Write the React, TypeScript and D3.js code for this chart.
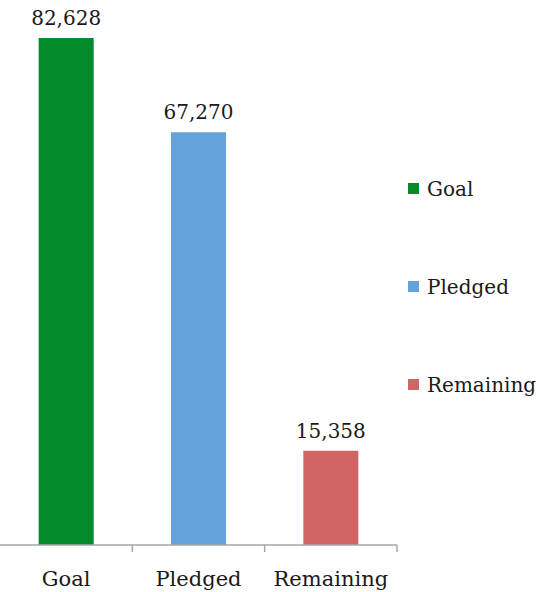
import React from "react";
import * as d3 from "d3";

const categories = ["Goal", "Pledged", "Remaining"];
const values = [82628, 67270, 15358];
const colors = ["#038A2B", "#64A3D9", "#D16464"];
const yMax = 90000;

const W = 540;
const H = 592;
const FONT = "'DejaVu Serif', serif";

export default function App() {
  const x = d3.scaleBand<string>().domain(categories).range([0, 397]);
  const y = d3.scaleLinear().domain([0, yMax]).range([545, -7.2]);
  const barW = 55;
  const fmt = d3.format(",");
  const axisY = y(0);
  const ticks = categories.map((c) => (x(c) as number) + x.bandwidth());

  return (
    <div style={{ position: "absolute", left: 0, top: 0 }}>
      <svg width={W} height={H} style={{ display: "block", background: "#fff" }}>
        {categories.map((c, i) => {
          const cx = (x(c) as number) + x.bandwidth() / 2;
          return (
            <g key={c}>
              <rect
                x={cx - barW / 2}
                y={y(values[i])}
                width={barW}
                height={axisY - y(values[i])}
                fill={colors[i]}
              />
              <text
                x={cx}
                y={y(values[i]) - 13}
                textAnchor="middle"
                fontFamily={FONT}
                fontSize={20}
                fill="#1a1a1a"
              >
                {fmt(values[i])}
              </text>
              <text
                x={cx}
                y={586}
                textAnchor="middle"
                fontFamily={FONT}
                fontSize={21}
                fill="#1a1a1a"
              >
                {c}
              </text>
            </g>
          );
        })}
        <line x1={-4} x2={397} y1={axisY} y2={axisY} stroke="#A6A6A6" strokeWidth={1.5} />
        {ticks.map((t, i) => (
          <line key={i} x1={t} x2={t} y1={axisY} y2={axisY + 7} stroke="#A6A6A6" strokeWidth={1.5} />
        ))}
        {categories.map((c, i) => {
          const ly = 189 + i * 98;
          return (
            <g key={"lg" + c}>
              <rect x={408} y={ly - 6} width={11} height={11} fill={colors[i]} />
              <text x={427} y={ly + 7} fontFamily={FONT} fontSize={20} fill="#1a1a1a">
                {c}
              </text>
            </g>
          );
        })}
      </svg>
    </div>
  );
}
